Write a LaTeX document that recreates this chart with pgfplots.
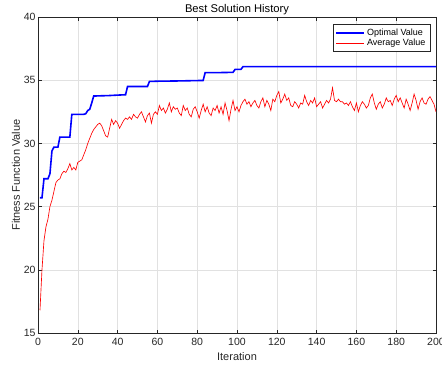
\documentclass[border=0pt]{standalone}
\usepackage{pgfplots}
\pgfplotsset{compat=1.18}
\usepackage{fontspec}
\setmainfont{Liberation Sans}
\setsansfont{Liberation Sans}
\definecolor{axgray}{RGB}{38,38,38}
\definecolor{gridgray}{RGB}{225,225,225}
\begin{document}
\begin{tikzpicture}[x=1pt,y=1pt]
\begin{axis}[
  scale only axis,
  width=398pt, height=316pt,
  xmin=0, xmax=200, ymin=15, ymax=40,
  xtick={0,20,...,200}, ytick={15,20,...,40},
  tick align=inside,
  major tick length=3.5pt,
  grid=major,
  major grid style={gridgray, line width=0.5pt},
  axis line style={axgray, line width=0.6pt},
  tick style={axgray, line width=0.6pt},
  ticklabel style={font=\fontsize{10.5}{11}\selectfont, text=axgray},
  xticklabel style={yshift=-2pt},
  yticklabel style={xshift=1pt},
  /pgf/number format/assume math mode=true,
  xlabel={Iteration}, ylabel={Fitness Function Value},
  label style={font=\fontsize{11}{12}\selectfont, text=axgray},
  xlabel style={yshift=0pt},
  ylabel style={yshift=-3pt},
  title={Best Solution History},
  title style={font=\fontsize{11.2}{12}\selectfont, yshift=-7pt, text=black},
  legend style={at={(0.985,0.978)}, anchor=north east, draw=axgray, line width=0.5pt,
    font=\fontsize{9}{10}\selectfont, row sep=-1.5pt, inner sep=2.5pt, cells={anchor=west}},
  legend image code/.code={\draw[#1] (0pt,0pt) -- (28pt,0pt);},
]
\addplot[blue, line width=1.6pt] coordinates {
(1,25.7)(2,25.7)(3,27.2)(4,27.2)(5,27.2)(6,27.6)(7,29.4)(8,29.7)(9,29.7)(10,29.7)
(11,30.5)(12,30.5)(13,30.5)(14,30.5)(15,30.5)(16,30.5)(17,32.3)(18,32.3)(19,32.3)(20,32.3)
(21,32.3)(22,32.3)(23,32.3)(24,32.35)(25,32.6)(26,32.7)(27,33.2)(28,33.75)(29,33.75)(30,33.76)
(35,33.78)(40,33.82)(44,33.85)(45,34.5)(50,34.5)(55,34.5)(56,34.9)(60,34.92)(70,34.94)(83,34.98)
(84,35.6)(90,35.6)(98,35.62)(99,35.85)(102,35.86)(103,36.07)(120,36.07)(150,36.07)(180,36.07)(200,36.07)
};
\addlegendentry{Optimal Value}
\addplot[red, line width=0.65pt] table {
x y
1 16.8
2 20.0
3 22.3
4 23.4
5 24.0
6 25.0
7 25.5
8 26.2
9 26.9
10 27.1
11 27.2
12 27.6
13 27.8
14 27.7
15 28.0
16 28.4
17 27.9
18 28.1
19 27.9
20 28.5
21 28.6
22 28.7
23 29.1
24 29.5
25 30.0
26 30.4
27 30.8
28 31.1
29 31.3
30 31.5
31 31.6
32 31.4
33 31.0
34 30.6
35 30.5
36 31.2
37 31.9
38 31.5
39 31.8
40 31.6
41 31.2
42 31.5
43 31.8
44 32.0
45 31.9
46 32.1
47 31.9
48 32.3
49 32.1
50 32.0
51 32.3
52 32.5
53 32.1
54 31.7
55 32.2
56 32.4
57 31.6
58 32.3
59 32.5
60 32.3
61 33.0
62 32.6
63 32.8
64 32.4
65 32.7
66 33.2
67 32.5
68 32.9
69 32.7
70 32.8
71 32.4
72 32.2
73 33.0
74 32.6
75 32.8
76 32.3
77 32.1
78 32.7
79 32.9
80 32.5
81 32.0
82 32.6
83 33.1
84 32.5
85 32.9
86 32.4
87 32.2
88 32.8
89 32.6
90 33.0
91 32.4
92 32.9
93 32.3
94 33.2
95 32.6
96 31.8
97 32.7
98 33.4
99 32.6
100 32.9
101 32.5
102 33.0
103 33.3
104 33.5
105 33.1
106 33.3
107 32.9
108 33.2
109 33.4
110 33.0
111 32.8
112 33.3
113 33.6
114 32.9
115 33.4
116 33.1
117 32.6
118 33.5
119 33.3
120 33.8
121 34.1
122 33.2
123 33.5
124 33.9
125 33.4
126 33.6
127 33.0
128 32.9
129 33.3
130 33.1
131 32.8
132 33.2
133 33.1
134 33.8
135 33.3
136 33.0
137 33.4
138 33.2
139 33.6
140 32.9
141 33.1
142 33.3
143 32.8
144 33.1
145 33.4
146 33.2
147 33.5
148 34.4
149 33.4
150 33.3
151 33.5
152 33.3
153 33.3
154 33.1
155 33.2
156 33.0
157 33.3
158 32.9
159 32.6
160 33.2
161 32.5
162 33.0
163 33.3
164 33.1
165 32.8
166 33.0
167 33.6
168 33.9
169 33.2
170 32.7
171 33.1
172 33.3
173 32.8
174 33.1
175 33.6
176 33.3
177 33.4
178 33.0
179 33.5
180 33.8
181 33.3
182 33.6
183 33.2
184 32.8
185 33.5
186 33.1
187 32.6
188 33.2
189 33.9
190 33.4
191 32.7
192 33.3
193 33.6
194 33.2
195 33.1
196 33.5
197 33.7
198 33.4
199 33.1
200 32.5
};
\addlegendentry{Average Value}
\end{axis}
\pgfresetboundingbox
\path ([shift={(-38pt,-34pt)}]current axis.south west) rectangle ([shift={(6pt,17pt)}]current axis.north east);
\end{tikzpicture}
\end{document}
